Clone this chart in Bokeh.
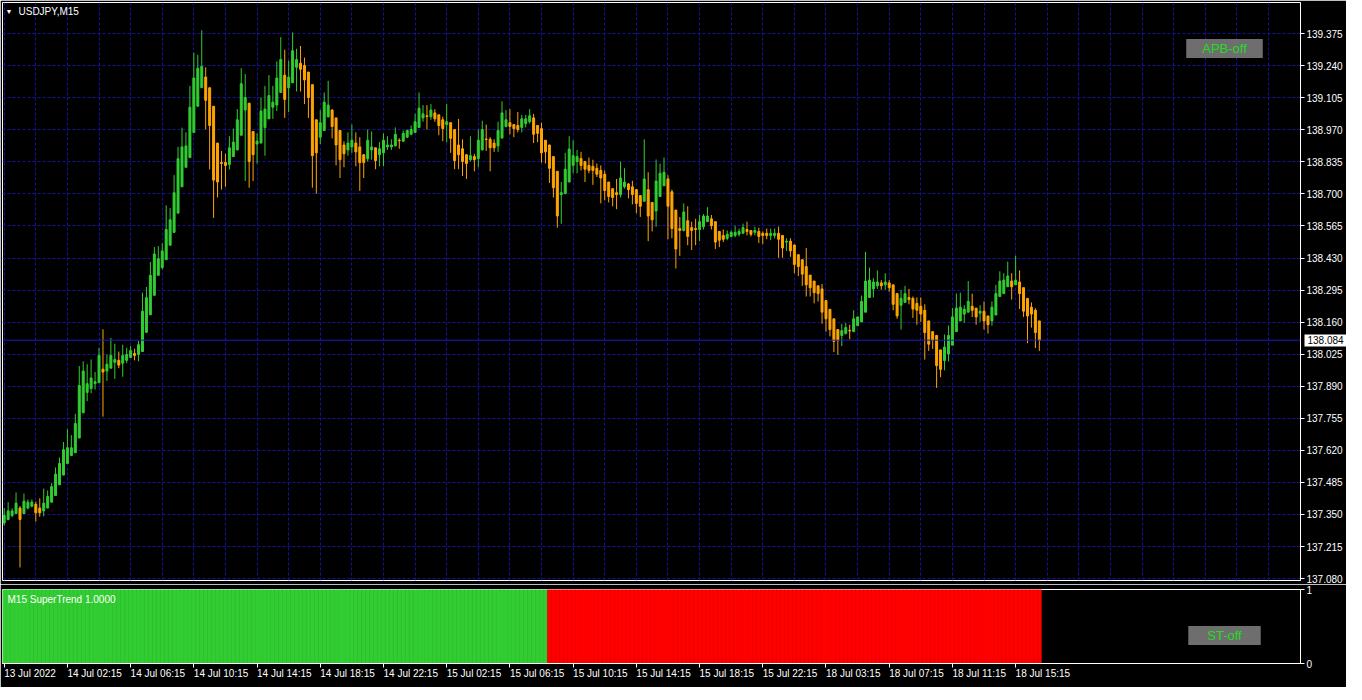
from bokeh.plotting import figure
from bokeh.layouts import column
from bokeh.models import (ColumnDataSource, FixedTicker, NumeralTickFormatter, Range1d, Span, Label,
                          Grid, LinearAxis)
from bokeh.embed import file_html
from bokeh.resources import INLINE

symbol = "USDJPY,M15"
indicator_name = "M15 SuperTrend 1.0000"

opens = [
    137.314, 137.329, 137.346, 137.354, 137.377, 137.354, 137.377, 137.385, 137.393, 137.377,
    137.365, 137.377, 137.402, 137.430, 137.475, 137.516, 137.565, 137.598, 137.610, 137.672,
    137.778, 137.864, 137.880, 137.901, 137.905, 137.962, 137.954, 137.966, 137.991, 137.999,
    137.987, 137.999, 138.011, 138.028, 138.024, 138.036, 138.117, 138.191, 138.273, 138.357,
    138.390, 138.423, 138.484, 138.538, 138.619, 138.730, 138.812, 138.853, 138.959, 139.069,
    139.147, 139.192, 139.147, 139.069, 138.914, 138.832, 138.832, 138.824, 138.857, 138.885,
    138.947, 139.053, 139.082, 138.963, 138.910, 138.914, 138.979, 139.016, 139.065, 139.074,
    139.127, 139.200, 139.147, 139.168, 139.233, 139.250, 139.241, 139.213, 139.160, 139.012,
    138.939, 138.967, 139.024, 139.053, 139.020, 138.967, 138.906, 138.885, 138.898, 138.914,
    138.898, 138.865, 138.848, 138.885, 138.894, 138.865, 138.873, 138.898, 138.898, 138.902,
    138.926, 138.922, 138.939, 138.951, 138.959, 138.980, 139.020, 139.029, 139.025, 139.041,
    139.033, 139.012, 138.992, 139.000, 138.971, 138.906, 138.890, 138.865, 138.844, 138.857,
    138.849, 138.885, 138.931, 138.930, 138.914, 138.902, 138.935, 138.984, 139.000, 138.992,
    138.988, 138.980, 138.996, 139.004, 139.020, 138.988, 138.975, 138.926, 138.906, 138.857,
    138.795, 138.697, 138.701, 138.750, 138.820, 138.836, 138.849, 138.836, 138.820, 138.816,
    138.808, 138.799, 138.783, 138.750, 138.722, 138.705, 138.697, 138.730, 138.742, 138.730,
    138.718, 138.693, 138.669, 138.718, 138.664, 138.628, 138.689, 138.734, 138.763, 138.709,
    138.632, 138.554, 138.546, 138.587, 138.558, 138.554, 138.550, 138.562, 138.583, 138.595,
    138.583, 138.542, 138.525, 138.513, 138.521, 138.525, 138.530, 138.534, 138.550, 138.546,
    138.538, 138.542, 138.534, 138.534, 138.525, 138.525, 138.534, 138.525, 138.497, 138.501,
    138.485, 138.444, 138.423, 138.394, 138.358, 138.333, 138.313, 138.300, 138.251, 138.214,
    138.174, 138.129, 138.104, 138.112, 138.125, 138.120, 138.145, 138.161, 138.202, 138.264,
    138.300, 138.313, 138.325, 138.317, 138.325, 138.317, 138.280, 138.231, 138.243, 138.264,
    138.260, 138.239, 138.227, 138.210, 138.165, 138.120, 138.104, 138.043, 137.998, 138.026,
    138.063, 138.120, 138.165, 138.194, 138.202, 138.227, 138.219, 138.198, 138.206, 138.186,
    138.165, 138.190, 138.268, 138.280, 138.309, 138.333, 138.317, 138.329, 138.305, 138.260,
    138.223, 138.210, 138.165,
]

highs = [
    137.377, 137.402, 137.376, 137.443, 137.385, 137.438, 137.413, 137.413, 137.404, 137.418,
    137.459, 137.451, 137.483, 137.548, 137.590, 137.655, 137.709, 137.684, 137.774, 137.975,
    137.995, 137.983, 138.003, 137.950, 138.052, 138.130, 138.024, 138.093, 138.069, 138.036,
    138.065, 138.052, 138.060, 138.048, 138.081, 138.284, 138.308, 138.413, 138.476, 138.480,
    138.492, 138.652, 138.640, 138.779, 138.898, 138.979, 138.959, 139.155, 139.295, 139.286,
    139.389, 139.233, 139.147, 139.069, 138.914, 138.881, 138.869, 138.943, 138.975, 139.057,
    139.229, 139.205, 139.082, 138.963, 138.955, 139.106, 139.155, 139.200, 139.155, 139.258,
    139.360, 139.307, 139.262, 139.380, 139.311, 139.323, 139.274, 139.213, 139.160, 139.012,
    139.053, 139.127, 139.176, 139.057, 139.020, 138.967, 138.922, 138.959, 138.992, 138.959,
    138.939, 138.865, 138.971, 138.963, 138.894, 138.918, 138.955, 138.943, 138.930, 138.980,
    138.934, 138.967, 138.971, 138.988, 139.037, 139.127, 139.074, 139.074, 139.078, 139.057,
    139.033, 139.025, 139.078, 139.000, 138.971, 139.016, 138.930, 138.865, 138.943, 138.869,
    138.971, 139.008, 138.992, 138.939, 138.930, 139.004, 139.090, 139.053, 139.057, 138.992,
    139.045, 139.033, 139.033, 139.057, 139.037, 138.988, 139.000, 138.926, 138.906, 138.857,
    138.795, 138.750, 138.873, 138.943, 138.926, 138.885, 138.877, 138.836, 138.853, 138.844,
    138.828, 138.820, 138.799, 138.750, 138.722, 138.763, 138.836, 138.808, 138.746, 138.755,
    138.718, 138.693, 138.930, 138.791, 138.664, 138.845, 138.828, 138.853, 138.779, 138.718,
    138.632, 138.603, 138.660, 138.648, 138.583, 138.595, 138.611, 138.615, 138.644, 138.611,
    138.583, 138.542, 138.550, 138.546, 138.546, 138.566, 138.554, 138.575, 138.583, 138.546,
    138.562, 138.558, 138.542, 138.554, 138.554, 138.554, 138.562, 138.525, 138.513, 138.513,
    138.485, 138.444, 138.423, 138.472, 138.358, 138.333, 138.313, 138.321, 138.251, 138.214,
    138.174, 138.129, 138.153, 138.157, 138.149, 138.210, 138.182, 138.272, 138.456, 138.390,
    138.345, 138.378, 138.337, 138.366, 138.337, 138.317, 138.280, 138.296, 138.313, 138.300,
    138.268, 138.264, 138.264, 138.235, 138.165, 138.120, 138.104, 138.043, 138.108, 138.145,
    138.219, 138.280, 138.284, 138.231, 138.333, 138.280, 138.219, 138.231, 138.247, 138.186,
    138.247, 138.317, 138.374, 138.366, 138.415, 138.366, 138.440, 138.378, 138.305, 138.260,
    138.243, 138.219, 138.165,
]

lows = [
    137.303, 137.325, 137.338, 137.353, 137.127, 137.352, 137.372, 137.380, 137.320, 137.340,
    137.342, 137.377, 137.402, 137.430, 137.475, 137.516, 137.565, 137.598, 137.610, 137.672,
    137.778, 137.827, 137.860, 137.876, 137.905, 137.762, 137.913, 137.966, 137.921, 137.966,
    137.930, 137.987, 138.011, 137.999, 137.995, 138.036, 138.117, 138.191, 138.273, 138.357,
    138.382, 138.423, 138.484, 138.538, 138.619, 138.730, 138.812, 138.853, 138.959, 139.069,
    139.147, 138.971, 138.803, 138.599, 138.685, 138.718, 138.730, 138.803, 138.857, 138.885,
    138.947, 138.754, 138.726, 138.754, 138.828, 138.914, 138.861, 139.016, 139.016, 139.049,
    139.127, 139.020, 139.045, 139.168, 139.131, 139.131, 139.078, 139.020, 138.726, 138.701,
    138.910, 138.967, 139.024, 138.934, 138.820, 138.767, 138.812, 138.861, 138.873, 138.816,
    138.713, 138.767, 138.836, 138.844, 138.804, 138.816, 138.816, 138.885, 138.885, 138.902,
    138.890, 138.918, 138.935, 138.947, 138.959, 138.980, 139.004, 138.971, 139.012, 139.004,
    138.947, 138.922, 138.918, 138.873, 138.804, 138.804, 138.775, 138.763, 138.836, 138.795,
    138.812, 138.885, 138.881, 138.795, 138.877, 138.877, 138.935, 138.980, 138.951, 138.939,
    138.959, 138.959, 138.980, 138.996, 138.914, 138.918, 138.832, 138.828, 138.746, 138.685,
    138.558, 138.574, 138.701, 138.750, 138.787, 138.787, 138.799, 138.750, 138.787, 138.738,
    138.771, 138.660, 138.673, 138.664, 138.648, 138.636, 138.685, 138.722, 138.681, 138.656,
    138.619, 138.603, 138.669, 138.501, 138.542, 138.562, 138.689, 138.734, 138.509, 138.513,
    138.386, 138.439, 138.542, 138.484, 138.464, 138.484, 138.501, 138.550, 138.583, 138.550,
    138.468, 138.476, 138.497, 138.505, 138.517, 138.517, 138.521, 138.534, 138.525, 138.521,
    138.525, 138.493, 138.489, 138.509, 138.505, 138.513, 138.431, 138.431, 138.460, 138.435,
    138.366, 138.354, 138.313, 138.268, 138.268, 138.239, 138.247, 138.153, 138.120, 138.100,
    138.034, 138.022, 138.059, 138.108, 138.088, 138.120, 138.145, 138.161, 138.202, 138.264,
    138.264, 138.300, 138.296, 138.296, 138.288, 138.210, 138.174, 138.129, 138.243, 138.235,
    138.178, 138.149, 138.161, 138.002, 138.039, 138.047, 137.883, 137.928, 137.957, 137.994,
    138.063, 138.120, 138.165, 138.157, 138.202, 138.182, 138.149, 138.161, 138.129, 138.112,
    138.145, 138.190, 138.268, 138.280, 138.309, 138.255, 138.317, 138.215, 138.182, 138.071,
    138.137, 138.051, 138.039,
]

closes = [
    137.346, 137.365, 137.365, 137.398, 137.329, 137.406, 137.402, 137.402, 137.357, 137.357,
    137.398, 137.426, 137.467, 137.520, 137.565, 137.623, 137.631, 137.631, 137.733, 137.893,
    137.954, 137.901, 137.925, 137.909, 138.020, 137.950, 137.983, 138.020, 138.003, 137.979,
    138.020, 138.024, 138.040, 138.020, 138.065, 138.206, 138.263, 138.357, 138.447, 138.427,
    138.460, 138.550, 138.591, 138.705, 138.848, 138.898, 138.902, 139.065, 139.188, 139.229,
    139.237, 139.094, 138.988, 138.758, 138.750, 138.828, 138.820, 138.894, 138.918, 139.012,
    139.164, 139.106, 138.836, 138.865, 138.922, 139.049, 139.057, 139.114, 139.086, 139.188,
    139.266, 139.098, 139.192, 139.303, 139.266, 139.225, 139.180, 139.106, 138.861, 138.873,
    139.000, 139.086, 139.074, 138.984, 138.906, 138.844, 138.869, 138.914, 138.926, 138.877,
    138.832, 138.832, 138.926, 138.898, 138.840, 138.890, 138.926, 138.906, 138.906, 138.951,
    138.924, 138.955, 138.967, 138.971, 139.004, 139.061, 139.037, 139.026, 139.053, 139.016,
    138.988, 138.975, 139.004, 138.934, 138.840, 138.865, 138.836, 138.828, 138.861, 138.844,
    138.926, 138.971, 138.929, 138.894, 138.894, 138.967, 139.041, 139.012, 138.984, 138.975,
    138.971, 139.016, 139.016, 139.029, 138.951, 138.955, 138.873, 138.877, 138.808, 138.726,
    138.607, 138.705, 138.804, 138.889, 138.861, 138.857, 138.820, 138.804, 138.799, 138.799,
    138.783, 138.767, 138.714, 138.689, 138.685, 138.697, 138.767, 138.750, 138.718, 138.697,
    138.660, 138.648, 138.763, 138.607, 138.591, 138.754, 138.787, 138.791, 138.648, 138.554,
    138.468, 138.546, 138.624, 138.521, 138.546, 138.550, 138.583, 138.607, 138.607, 138.566,
    138.497, 138.505, 138.509, 138.530, 138.538, 138.538, 138.542, 138.558, 138.542, 138.530,
    138.546, 138.521, 138.525, 138.525, 138.534, 138.534, 138.509, 138.472, 138.501, 138.460,
    138.403, 138.394, 138.362, 138.317, 138.305, 138.284, 138.280, 138.202, 138.174, 138.129,
    138.079, 138.083, 138.124, 138.137, 138.123, 138.174, 138.182, 138.247, 138.333, 138.337,
    138.329, 138.329, 138.313, 138.329, 138.305, 138.235, 138.186, 138.260, 138.280, 138.255,
    138.215, 138.210, 138.194, 138.116, 138.067, 138.083, 137.977, 137.961, 138.055, 138.104,
    138.182, 138.219, 138.223, 138.215, 138.247, 138.210, 138.182, 138.206, 138.165, 138.149,
    138.223, 138.280, 138.333, 138.337, 138.354, 138.309, 138.337, 138.280, 138.206, 138.186,
    138.194, 138.116, 138.084,
]

price_ticks = [137.080, 137.215, 137.350, 137.485, 137.620, 137.755, 137.890, 138.025, 138.160,
               138.295, 138.430, 138.565, 138.700, 138.835, 138.970, 139.105, 139.240, 139.375]

time_tick_bars = [0, 16, 32, 48, 64, 80, 96, 112, 128, 144, 160, 176, 192, 208, 224, 240, 256]
time_tick_labels = ["13 Jul 2022", "14 Jul 02:15", "14 Jul 06:15", "14 Jul 10:15", "14 Jul 14:15",
                    "14 Jul 18:15", "14 Jul 22:15", "15 Jul 02:15", "15 Jul 06:15", "15 Jul 10:15",
                    "15 Jul 14:15", "15 Jul 18:15", "15 Jul 22:15", "18 Jul 03:15", "18 Jul 07:15",
                    "18 Jul 11:15", "18 Jul 15:15"]

# SuperTrend state as runs of (direction, number of bars); histogram level
st_runs = [(1, 138), (-1, 125)]
st_level = 1.0
st_ticks = [0, 1]

# ---------------- styling ----------------
BULL = "#32cd32"
BEAR = "#ffa500"
ST_UP = "#32cd32"
ST_DOWN = "#ff0000"
GRID = "#12129e"
PRICE_LINE = "#1c1cc8"
FONT = "Liberation Sans"
FW = 1298
FH_MAIN = 578
FH_IND = 74
X_END = 328.1

n = min(len(opens), len(highs), len(lows), len(closes))
idx = list(range(n))
colors = [BULL if closes[i] >= opens[i] else BEAR for i in idx]
src = ColumnDataSource(dict(
    x=idx, h=highs[:n], l=lows[:n],
    top=[max(opens[i], closes[i]) for i in idx],
    bottom=[min(opens[i], closes[i]) for i in idx],
    color=colors,
))

x_range = Range1d(-0.43, X_END)

p = figure(frame_width=FW, frame_height=FH_MAIN, x_range=x_range, y_range=Range1d(137.072, 139.506),
           output_backend="svg", toolbar_location=None, x_axis_location=None, y_axis_location="right",
           background_fill_color="black", border_fill_color="black", outline_line_color="white",
           min_border_left=2, min_border_top=2, min_border_bottom=4, min_border_right=46)
p.grid.visible = False
p.add_layout(Grid(dimension=0, ticker=FixedTicker(ticks=list(range(0, 336, 8))),
                  grid_line_color=GRID, grid_line_dash="3 2", grid_line_width=1))
p.add_layout(Grid(dimension=1, ticker=FixedTicker(ticks=price_ticks),
                  grid_line_color=GRID, grid_line_dash="3 2", grid_line_width=1))


def style_axis(ax):
    ax.axis_line_color = "white"
    ax.major_tick_line_color = "white"
    ax.minor_tick_line_color = None
    ax.major_tick_out = 4
    ax.major_tick_in = 0
    ax.major_label_text_color = "white"
    ax.major_label_text_font = FONT
    ax.major_label_text_font_size = "10px"
    ax.major_label_standoff = 2


yax = p.yaxis[0]
yax.ticker = FixedTicker(ticks=price_ticks)
yax.formatter = NumeralTickFormatter(format="0.000")
style_axis(yax)

p.segment(x0="x", y0="h", x1="x", y1="l", line_color="color", line_width=1, source=src)
p.vbar(x="x", width=0.5, top="top", bottom="bottom", fill_color="color", line_color="color",
       line_width=1, source=src)

last = closes[n - 1]
p.add_layout(Span(location=last, dimension="width", line_color=PRICE_LINE, line_width=1))

# current-price marker on the price scale: a second right axis whose single tick is a wide
# white bar reaching back to the frame edge, with its label drawn on top of it
last_ax = LinearAxis(ticker=FixedTicker(ticks=[last]), formatter=NumeralTickFormatter(format="0.000"))
last_ax.axis_line_color = None
last_ax.minor_tick_line_color = None
last_ax.major_tick_in = 41
last_ax.major_tick_out = 2
last_ax.major_tick_line_width = 12
last_ax.major_tick_line_color = "white"
last_ax.major_tick_line_cap = "butt"
last_ax.major_label_standoff = -40
last_ax.major_label_text_color = "black"
last_ax.major_label_text_font = FONT
last_ax.major_label_text_font_size = "10px"
p.add_layout(last_ax, "right")

p.add_layout(Label(x=3, y=FH_MAIN - 9, x_units="screen", y_units="screen", text="\u25bc",
                   text_color="white", text_font_size="7px", text_baseline="middle"))
p.add_layout(Label(x=16, y=FH_MAIN - 9, x_units="screen", y_units="screen", text=symbol,
                   text_color="white", text_font=FONT, text_font_size="10px", text_baseline="middle"))
p.add_layout(Label(x=FW - 76, y=FH_MAIN - 46, x_units="screen", y_units="screen", text="APB-off",
                   text_color="#22dd22", text_font=FONT, text_font_size="13px", text_baseline="middle",
                   text_align="center", background_fill_color="#6e6e6e",
                   padding=dict(left=16, right=16, top=2, bottom=2)))

# ---------------- indicator panel ----------------
st_dir = []
for d, cnt in st_runs:
    st_dir.extend([d] * cnt)
st_dir = st_dir[:n]
st_src = ColumnDataSource(dict(
    x=idx[:len(st_dir)],
    v=[st_level] * len(st_dir),
    color=[ST_UP if d > 0 else ST_DOWN for d in st_dir],
))

p2 = figure(frame_width=FW, frame_height=FH_IND, x_range=x_range, y_range=Range1d(0, 1),
            output_backend="svg", toolbar_location=None, y_axis_location="right",
            background_fill_color="black", border_fill_color="black", outline_line_color="white",
            min_border_left=2, min_border_top=5, min_border_bottom=22, min_border_right=46)
p2.grid.visible = False
p2.vbar(x="x", width=1.0, top="v", bottom=0, fill_color="color", line_color="color",
        line_width=0.6, source=st_src)

yax2 = p2.yaxis[0]
yax2.ticker = FixedTicker(ticks=st_ticks)
style_axis(yax2)

xax = p2.xaxis[0]
xax.ticker = FixedTicker(ticks=time_tick_bars)
xax.major_label_overrides = {b: lab for b, lab in zip(time_tick_bars, time_tick_labels)}
style_axis(xax)
xax.major_label_orientation = -0.0001
xax.major_label_standoff = 6

p2.add_layout(Label(x=5, y=FH_IND - 10, x_units="screen", y_units="screen", text=indicator_name,
                    text_color="white", text_font=FONT, text_font_size="10px", text_baseline="middle"))
p2.add_layout(Label(x=FW - 76, y=FH_IND - 46, x_units="screen", y_units="screen", text="ST-off",
                    text_color="#22dd22", text_font=FONT, text_font_size="13px", text_baseline="middle",
                    text_align="center", background_fill_color="#6e6e6e",
                    padding=dict(left=19, right=19, top=2, bottom=2)))

layout = column(p, p2, spacing=0)
open("out.html", "w").write(file_html(layout, INLINE))
